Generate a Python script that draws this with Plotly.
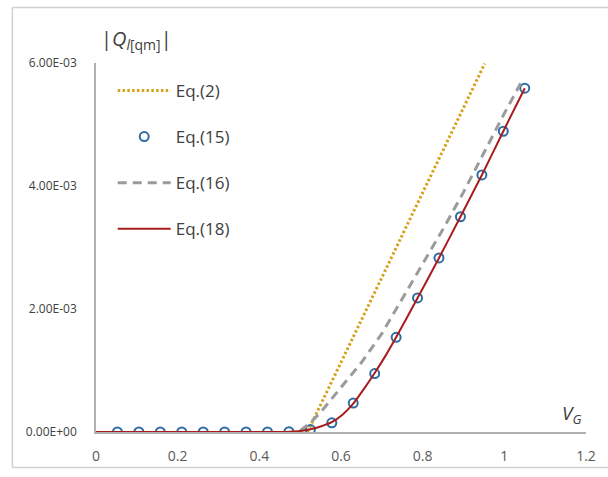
import plotly.graph_objects as go

# ---- data ----
# Eq.(2): dotted gold
v_eq2 = [0.518, 0.55, 0.60, 0.65, 0.70, 0.75, 0.80, 0.85, 0.90, 0.952]
q_eq2 = [0.0, 0.44e-3, 1.13e-3, 1.82e-3, 2.51e-3, 3.20e-3, 3.89e-3, 4.58e-3, 5.27e-3, 5.99e-3]

# Eq.(15): open circles
v_eq15 = [0.0525, 0.105, 0.1575, 0.21, 0.2625, 0.315, 0.3675, 0.42, 0.4725, 0.525,
          0.5775, 0.63, 0.6825, 0.735, 0.7875, 0.84, 0.8925, 0.945, 0.9975, 1.05]
q_eq15 = [0.0, 0.0, 0.0, 0.0, 0.0, 0.0, 0.0, 0.0, 0.005e-3, 0.04e-3,
          0.15e-3, 0.47e-3, 0.95e-3, 1.54e-3, 2.18e-3, 2.83e-3, 3.50e-3, 4.18e-3, 4.89e-3, 5.59e-3]

# Eq.(16): dashed grey
v_eq16 = [0.50, 0.525, 0.55, 0.575, 0.60, 0.65, 0.70, 0.75, 0.80, 0.85, 0.90, 0.95, 1.00, 1.04]
q_eq16 = [0.02e-3, 0.15e-3, 0.32e-3, 0.52e-3, 0.72e-3, 1.13e-3, 1.60e-3, 2.16e-3, 2.74e-3,
          3.30e-3, 3.90e-3, 4.55e-3, 5.18e-3, 5.67e-3]

# Eq.(18): solid dark red
v_eq18 = [0.0, 0.10, 0.20, 0.30, 0.40, 0.45, 0.475, 0.50, 0.525, 0.55, 0.5775, 0.605, 0.63,
          0.655, 0.6825, 0.71, 0.735, 0.7875, 0.84, 0.8925, 0.945, 0.9975, 1.05]
q_eq18 = [0.0, 0.0, 0.0, 0.0, 0.0, 0.0, 0.004e-3, 0.015e-3, 0.045e-3, 0.09e-3, 0.16e-3, 0.29e-3, 0.46e-3,
          0.69e-3, 0.96e-3, 1.25e-3, 1.54e-3, 2.18e-3, 2.83e-3, 3.50e-3, 4.18e-3, 4.89e-3, 5.59e-3]

x_ticks = [0, 0.2, 0.4, 0.6, 0.8, 1.0, 1.2]
x_ticktext = ["0", "0.2", "0.4", "0.6", "0.8", "1", "1.2"]
y_ticks = [0, 2e-3, 4e-3, 6e-3]
y_ticktext = ["0.00E+00", "2.00E-03", "4.00E-03", "6.00E-03"]

FONT = "Open Sans"
W, H = 608, 477
ML, MR, MT, MB = 96, 14, 63, 41
PW, PH = W - ML - MR, H - MT - MB


def px(x):
    return (x - ML) / PW


def py(y):
    return (H - MB - y) / PH


fig = go.Figure()
fig.add_trace(go.Scatter(
    x=v_eq2, y=q_eq2, mode="lines", name="Eq.(2)", legendgroup="a",
    line=dict(color="#D6A21E", width=3, dash="2.5px,2.3px")))
fig.add_trace(go.Scatter(
    x=v_eq15, y=q_eq15, mode="markers", name="Eq.(15)", legendgroup="b",
    marker=dict(symbol="circle-open", size=9, color="#2E6DA4", line=dict(width=2, color="#2E6DA4"))))
fig.add_trace(go.Scatter(
    x=v_eq16, y=q_eq16, mode="lines", name="Eq.(16)", legendgroup="c",
    line=dict(color="#9B9B9B", width=3, dash="9px,6px")))
fig.add_trace(go.Scatter(
    x=v_eq18, y=q_eq18, mode="lines", name="Eq.(18)", legendgroup="d",
    line=dict(color="#A81C1C", width=2, shape="spline", smoothing=0.6)))

border = dict(color="#D0D0D0", width=1.5)

fig.update_layout(
    width=W, height=H, autosize=False,
    margin=dict(l=ML, r=MR, t=MT, b=MB),
    paper_bgcolor="white", plot_bgcolor="white",
    font=dict(family=FONT, color="#404040"),
    showlegend=True,
    legend=dict(x=px(113), y=py(73), xanchor="left", yanchor="top",
                font=dict(size=17, color="#404040", family=FONT),
                traceorder="grouped", tracegroupgap=21, itemwidth=53,
                bgcolor="rgba(0,0,0,0)"),
    xaxis=dict(range=[0, 1.2], tickvals=x_ticks, ticktext=x_ticktext,
               showgrid=False, zeroline=False, showline=True, linecolor="#B0B0B0", linewidth=1.5,
               ticks="", tickfont=dict(size=14, color="#595959", family=FONT),
               ticklabelstandoff=10, ticklabeloverflow="allow"),
    yaxis=dict(range=[0, 6e-3], tickvals=y_ticks, ticktext=y_ticktext,
               showgrid=False, zeroline=False, showline=True, linecolor="#B0B0B0", linewidth=1.5,
               ticks="", tickfont=dict(size=12, color="#404040", family=FONT),
               ticklabelstandoff=15, ticklabeloverflow="allow"),
    shapes=[
        dict(type="line", xref="paper", yref="paper", x0=px(11), x1=px(620), y0=py(7), y1=py(7),
             line=border, layer="below"),
        dict(type="line", xref="paper", yref="paper", x0=px(11), x1=px(11), y0=py(7), y1=py(472),
             line=border, layer="below"),
        dict(type="line", xref="paper", yref="paper", x0=px(11), x1=px(620), y0=py(472), y1=py(472),
             line=border, layer="below"),
    ],
    annotations=[
        dict(text="|<i>Q</i><sub><i>l</i>[qm]</sub>|", xref="paper", yref="paper",
             x=px(99), y=py(39), xanchor="left", yanchor="middle",
             showarrow=False, font=dict(size=20, color="#404040", family=FONT)),
        dict(text="<i>V<sub>G</sub></i>", xref="paper", yref="paper",
             x=px(592), y=py(418), xanchor="right", yanchor="middle",
             showarrow=False, font=dict(size=19, color="#404040", family=FONT)),
    ],
)

fig.write_html(
    "out.html",
    config={"responsive": False, "displayModeBar": False},
    post_script="document.body.style.margin='0';document.body.style.overflow='hidden';"
                "document.documentElement.style.overflow='hidden';",
)
